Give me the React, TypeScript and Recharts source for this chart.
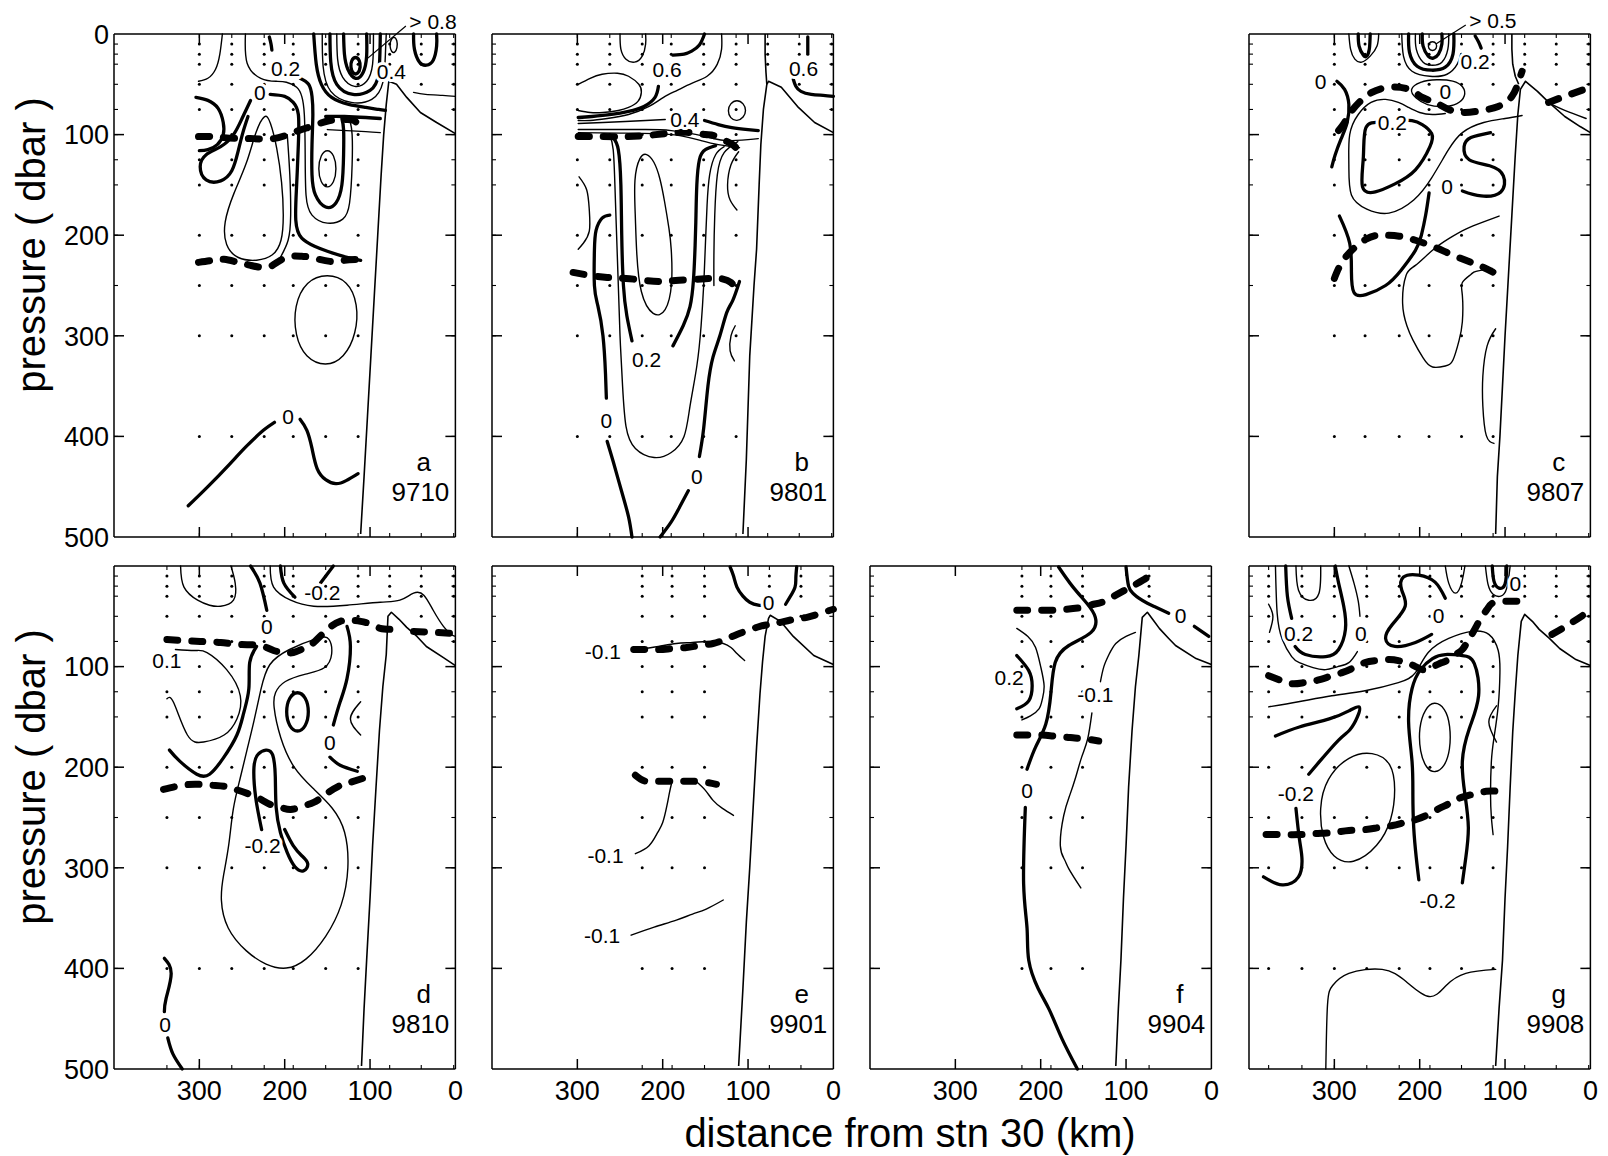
import React from 'react';
import { ScatterChart, Scatter, XAxis, YAxis, ReferenceLine, ReferenceDot } from 'recharts';

type Pt = [number, number];
type Lbl = { x: number; y: number; t: string; s?: number; h?: boolean };

const FONT = "'Liberation Sans', Arial, Helvetica, sans-serif";

// panel frame geometry (page pixels)
const PANEL_W = 341.4;
const PANEL_H = 503;
const COL_X = [114.3, 492.3, 870, 1249.3];
const ROW_Y = [33.6, 565.5];
const M = { top: 34, right: 16, bottom: 44, left: 78 };
// axes get a near-zero size so they never push the plot area around
const HAIR = 0.001;

// sampling depths (dbar) and axis ticks
const levels = [10, 20, 30, 50, 75, 100, 125, 150, 200, 250, 300, 400];
const majorX = [100, 200, 300];
const majorY = [100, 200, 300, 400];
const xTickLabels = [0, 100, 200, 300];

// ---------- a 9710 ----------
const aDeep = [300, 262, 224, 190, 152, 114];
const aShallow: Pt[] = [[77, 30], [40, 50], [2, 75]];
const aShelf: Pt[][] = [[[111, 497], [107, 440], [103, 380], [99, 320], [95, 260], [91, 200], [87, 140], [84, 100], [81, 70], [78, 47], [69, 50], [57, 63], [41, 78], [22, 88], [0, 99]]];
const aDash: Pt[][] = [
  [[301, 102], [285, 102], [271, 103], [250, 104], [236, 104], [213, 104], [190, 98], [166, 91], [147, 86], [130, 85], [119, 86], [110, 94]],
  [[301, 227], [285, 225], [271, 224], [255, 227], [240, 230], [221, 232], [207, 226], [193, 221], [180, 221], [170, 222], [147, 226], [130, 225], [111, 224]],
];
const aThin: Pt[][] = [
  [[301, 47], [290, 44], [281, 35], [276, 20], [273, 0]],
  [[246, 0], [244, 29], [228, 44], [210, 47], [198, 48], [186, 53], [180, 62], [177, 80], [176, 120], [175, 160], [168, 180], [150, 188], [132, 184], [124, 168], [121, 130], [121, 100], [123, 88]],
  [[139, 0], [138, 25], [132, 43], [118, 52], [104, 47], [97, 30], [96, 0]],
  [[156, 0], [155, 32], [146, 57], [122, 68], [98, 65], [85, 48], [82, 20], [81, 0]],
  [[150, 95], [128, 96], [105, 97], [88, 98]],
  [[49, 58], [35, 60], [15, 61], [0, 62]],
  [[197, 100], [194, 140], [193, 180], [196, 205], [205, 222]],
];
const aThick: Pt[][] = [
  [[304, 63], [290, 66], [278, 74], [272, 88], [272, 100], [279, 110], [290, 115], [300, 116]],
  [[240, 66], [250, 84], [260, 100], [275, 112], [292, 120], [299, 132], [292, 145], [275, 146], [262, 136], [255, 118], [249, 98], [243, 82]],
  [[217, 60], [200, 62], [190, 68], [184, 80], [184, 110], [186, 150], [187, 185], [180, 203], [165, 211], [150, 216], [127, 222], [111, 225]],
  [[182, 44], [172, 50], [168, 62], [167, 80], [168, 110], [168, 140], [164, 160], [152, 172], [140, 168], [133, 150], [131, 120], [131, 95], [133, 84]],
  [[131, 0], [130, 20], [126, 35], [117, 44], [108, 38], [104, 22], [104, 0]],
  [[147, 0], [146, 28], [139, 50], [120, 60], [100, 56], [90, 40], [88, 0]],
  [[166, 0], [163, 30], [157, 50], [145, 63], [125, 70], [105, 73], [90, 75], [82, 76]],
  [[218, 3], [216, 10], [215, 16]],
  [[49, 0], [48, 15], [42, 28], [34, 31], [26, 26], [22, 12], [22, 0]],
  [[313, 469], [290, 450], [265, 428], [245, 410], [225, 394], [212, 386]],
  [[182, 383], [174, 394], [168, 412], [162, 432], [152, 443], [140, 447], [128, 444], [114, 437]],
  [[152, 82], [130, 82], [105, 83], [88, 84]],
];
const aLoops: Pt[][] = [
  [[223, 78], [234, 96], [244, 129], [260, 158], [272, 188], [270, 211], [256, 224], [232, 226], [213, 221], [203, 207], [201, 181], [203, 148], [209, 112], [217, 86]],
  [[150, 114], [158, 120], [161, 134], [158, 148], [150, 154], [142, 148], [139, 134], [142, 120]],
  [[150, 238], [175, 245], [189, 270], [188, 300], [176, 322], [152, 331], [130, 322], [116, 298], [114, 268], [126, 245]],
  [[72, 2], [76, 6], [77, 12], [75, 18], [71, 19], [68, 14], [68, 6]],
];
const aLoopsThick: Pt[][] = [[[117, 22], [122, 26], [123, 33], [120, 40], [114, 40], [111, 33], [112, 26]]];
const aLabels: Lbl[] = [
  { x: 199, y: 34, t: '0.2' }, { x: 229, y: 58, t: '0' }, { x: 75, y: 37, t: '0.4' }, { x: 196, y: 380, t: '0' },
];
const aLeader: Pt[] = [[104, 25], [58, -8]];

// ---------- b 9801 ----------
const bDeep = [300, 262, 224, 190, 152, 114];
const bShallow: Pt[] = [[77, 30], [40, 50], [2, 75]];
const bShelf: Pt[][] = [
  [[106, 497], [102, 423], [98, 320], [93, 250], [90, 214], [87, 150], [85, 110], [82, 75], [78, 50], [76, 47], [61, 53], [41, 73], [22, 88], [0, 98]],
  [[80, 0], [80, 20], [79, 38], [78, 50]],
];
const bDash: Pt[][] = [
  [[299, 102], [270, 102], [244, 102], [220, 101], [197, 99], [182, 98], [166, 98], [150, 100], [140, 101], [127, 106], [118, 110], [111, 116]],
  [[305, 237], [285, 240], [265, 242], [243, 243], [220, 245], [203, 246], [185, 245], [164, 244], [145, 243], [133, 243], [120, 247], [113, 257]],
];
const bThin: Pt[][] = [
  [[250, 0], [249, 15], [243, 25], [233, 28], [224, 22], [220, 10], [220, 0]],
  [[299, 50], [285, 44], [271, 40], [253, 39], [240, 42], [228, 50], [225, 58], [229, 67], [240, 73], [252, 76], [270, 78], [285, 78], [299, 76]],
  [[131, 0], [131, 15], [136, 30], [148, 42], [166, 49], [183, 56], [199, 63], [216, 72], [240, 80], [265, 84], [285, 86], [299, 86]],
  [[197, 85], [220, 86], [244, 87], [270, 88], [299, 89]],
  [[299, 95], [260, 95], [220, 95], [190, 96], [160, 100], [140, 104], [125, 106], [100, 105], [88, 104]],
  [[299, 98], [250, 98.5], [210, 99], [180, 101], [155, 106], [135, 110], [118, 112], [110, 113]],
  [[262, 100], [258, 115], [256, 150], [254, 200], [252, 250], [250, 300], [247, 350], [243, 390], [232, 412], [210, 421], [190, 416], [175, 400], [168, 370], [160, 330], [155, 290], [152, 250], [150, 210], [148, 170], [145, 140], [138, 120], [128, 112]],
  [[298, 142], [289, 155], [286, 175], [286, 196], [293, 208], [299, 214]],
  [[112, 107], [128, 118], [136, 140], [139, 180], [140, 220], [140, 250]],
  [[111, 117], [120, 130], [124, 150], [121, 165], [113, 175]],
  [[115, 290], [120, 300], [121, 315], [116, 325]],
];
const bThick: Pt[][] = [
  [[188, 21], [175, 20], [166, 17], [157, 11], [151, 0]],
  [[205, 52], [209, 63], [222, 72], [240, 77], [260, 80], [283, 82], [299, 83]],
  [[151, 86], [135, 90], [119, 93], [100, 95], [88, 96]],
  [[258, 103], [252, 115], [249, 150], [248, 200], [246, 250], [242, 280], [236, 305]],
  [[188, 310], [176, 290], [168, 271], [164, 245], [162, 210], [161, 180], [160, 150], [157, 125], [150, 115], [138, 111]],
  [[30, 3], [30, 12], [30, 20]],
  [[47, 45], [44, 52], [38, 57], [26, 60], [12, 61], [0, 62]],
  [[262, 180], [271, 183], [278, 195], [280, 215], [280, 250], [276, 270], [270, 300], [267, 338], [266, 362]],
  [[265, 405], [258, 425], [248, 455], [240, 480], [236, 500]],
  [[110, 246], [118, 265], [125, 277], [133, 300], [141, 321], [147, 350], [152, 392], [157, 420]],
  [[170, 454], [180, 470], [190, 485], [203, 500]],
];
const bLoops: Pt[][] = [
  [[219, 118], [227, 121], [234, 143], [232, 180], [231, 214], [227, 260], [211, 282], [196, 278], [188, 250], [190, 210], [192, 196], [198, 165], [203, 143], [210, 126]],
  [[113, 65], [121, 69], [124, 76], [121, 84], [113, 87], [105, 83], [102, 76], [105, 69]],
];
const bLabels: Lbl[] = [
  { x: 195, y: 35, t: '0.6' }, { x: 35, y: 34, t: '0.6' }, { x: 174, y: 85, t: '0.4' },
  { x: 219, y: 324, t: '0.2' }, { x: 266, y: 384, t: '0' }, { x: 160, y: 440, t: '0' },
];

// ---------- c 9807 ----------
const cDeep = [300, 264, 224, 189, 151, 114];
const cShallow: Pt[] = [[77, 30], [40, 50], [2, 75]];
const cShelf: Pt[][] = [
  [[111, 497], [109, 440], [106, 400], [103, 350], [100, 300], [96, 240], [92, 180], [88, 120], [85, 80], [82, 55], [76, 47], [62, 57], [50, 67], [30, 82], [12, 92], [0, 98]],
  [[92, 0], [92, 15], [91, 30], [88, 42], [84, 50]],
];
const cDash: Pt[][] = [
  [[295, 96], [288, 88], [283, 80], [271, 68], [256, 58], [236, 53], [213, 55], [197, 63], [182, 68], [166, 75], [147, 78], [127, 76], [108, 72], [92, 62], [84, 47], [80, 37]],
  [[49, 68], [30, 62], [0, 53]],
  [[300, 243], [287, 222], [263, 204], [244, 200], [224, 201], [205, 205], [185, 211], [166, 218], [146, 225], [128, 231], [111, 238]],
];
const cThin: Pt[][] = [
  [[283, 0], [281, 15], [276, 25], [268, 28], [258, 22], [250, 12], [248, 0]],
  [[205, 0], [204, 15], [196, 28], [185, 31], [174, 28], [167, 15], [166, 0]],
  [[221, 0], [219, 22], [209, 37], [188, 42], [168, 40], [156, 30], [152, 20]],
  [[80, 81], [100, 84], [125, 88], [150, 98], [167, 116], [186, 143], [207, 165], [236, 178], [262, 174], [280, 160], [283, 130], [282, 100], [272, 80], [257, 68], [240, 65], [225, 68], [213, 73], [200, 78], [185, 80], [170, 79]],
  [[107, 181], [126, 187], [146, 194], [165, 203], [185, 215], [205, 230], [216, 240], [220, 268], [215, 290], [208, 304], [196, 322], [185, 331], [170, 330], [161, 324], [154, 305], [150, 286], [150, 260], [150, 247], [140, 239], [134, 236], [115, 233]],
  [[111, 293], [121, 310], [126, 340], [126, 370], [122, 399], [113, 407]],
  [[50, 68], [30, 76], [5, 84]],
];
const cThick: Pt[][] = [
  [[272, 0], [271, 12], [266, 21], [262, 22], [259, 15], [258, 0]],
  [[197, 0], [196, 12], [190, 22], [184, 24], [178, 20], [174, 10], [174, 0]],
  [[213, 0], [212, 18], [203, 32], [186, 36], [170, 33], [161, 20], [160, 0]],
  [[135, 2], [131, 8], [128, 14]],
  [[297, 47], [288, 55], [283, 70], [285, 88], [292, 104], [299, 120], [303, 132]],
  [[247, 88], [263, 93], [266, 122], [267, 152], [252, 157], [229, 149], [205, 135], [188, 112], [186, 99], [197, 90], [209, 86], [218, 86]],
  [[117, 98], [140, 103], [148, 112], [142, 125], [118, 131], [102, 141], [105, 157], [128, 161], [150, 156]],
  [[189, 158], [193, 180], [198, 200], [205, 215], [222, 235], [240, 250], [263, 259], [277, 257], [280, 236], [282, 208], [294, 181]],
];
const cLoops: Pt[][] = [
  [[213, 55], [200, 47], [180, 45], [160, 46], [148, 52], [146, 62], [155, 70], [172, 73], [192, 71], [205, 64]],
  [[185, 7], [190, 9], [190, 15], [185, 17], [180, 15], [180, 9]],
];
const cLabels: Lbl[] = [
  { x: 135, y: 27, t: '0.2' }, { x: 170, y: 57, t: '0' }, { x: 316, y: 47, t: '0' },
  { x: 232, y: 88, t: '0.2' }, { x: 168, y: 152, t: '0' },
];
const cLeader: Pt[] = [[181, 10], [146, -9]];

// ---------- d 9810 ----------
const dDeep = [338, 300, 262, 224, 190, 152, 114];
const dShallow: Pt[] = [[77, 30], [40, 50], [2, 75]];
const dShelf: Pt[][] = [[[110, 497], [107, 440], [104, 392], [100, 330], [97, 278], [93, 220], [89, 164], [85, 120], [81, 88], [79, 50], [75, 46], [66, 53], [57, 61], [45, 70], [34, 80], [14, 91], [0, 99]]];
const dDash: Pt[][] = [
  [[338, 73], [320, 74], [299, 75], [275, 76], [252, 78], [229, 79], [213, 84], [200, 86], [190, 86], [178, 82], [166, 76], [150, 63], [135, 55], [122, 54], [111, 55], [98, 58], [88, 62], [76, 63]],
  [[49, 65], [25, 66], [0, 67]],
  [[342, 222], [320, 218], [302, 217], [285, 218], [271, 219], [258, 222], [244, 226], [230, 231], [217, 237], [205, 240], [193, 242], [180, 239], [166, 235], [155, 229], [147, 224], [137, 219], [127, 216], [108, 211]],
];
const dThin: Pt[][] = [
  [[322, 0], [318, 21], [302, 34], [288, 39], [275, 40], [260, 34], [258, 17], [263, 0]],
  [[217, 0], [213, 21], [193, 34], [166, 40], [127, 39], [88, 36], [65, 34], [49, 27], [37, 29], [26, 44], [14, 60], [5, 68], [0, 70]],
  [[328, 83], [305, 84], [291, 86], [268, 103], [252, 129], [256, 152], [271, 168], [295, 175], [314, 168], [330, 136], [338, 132]],
  [[111, 135], [123, 152], [111, 168]],
];
const dThick: Pt[][] = [
  [[240, 0], [229, 17], [221, 44]],
  [[205, 0], [201, 17], [188, 31]],
  [[158, 17], [143, 0]],
  [[233, 80], [241, 96], [242, 122], [248, 146], [256, 168], [272, 191], [288, 207], [303, 207], [323, 194], [335, 183]],
  [[127, 60], [123, 80], [127, 112], [135, 135], [143, 158]],
  [[147, 190], [135, 198], [115, 204]],
  [[227, 262], [234, 230], [236, 200], [231, 187], [222, 183], [214, 188], [211, 210], [210, 240], [205, 265], [197, 285], [188, 299], [178, 303], [173, 296], [180, 288], [190, 278], [200, 262]],
  [[341, 390], [333, 405], [339, 430], [341, 443]],
  [[337, 469], [331, 485], [320, 500]],
];
const dLoops: Pt[][] = [
  [[158, 70], [197, 83], [220, 96], [228, 122], [236, 155], [244, 182], [252, 211], [261, 240], [265, 278], [272, 308], [276, 331], [269, 361], [245, 384], [222, 397], [198, 402], [175, 393], [151, 369], [132, 338], [124, 300], [128, 262], [143, 240], [167, 221], [190, 202], [206, 171], [214, 137], [212, 126], [202, 114], [175, 107], [151, 103], [143, 88], [147, 70]],
];
const dLoopsThick: Pt[][] = [[[185, 124], [195, 130], [199, 145], [195, 160], [185, 166], [175, 160], [171, 145], [175, 130]]];
const dLabels: Lbl[] = [
  { x: 156, y: 26, t: '-0.2' }, { x: 221, y: 60, t: '0' }, { x: 338, y: 94, t: '0.1' },
  { x: 147, y: 175, t: '0' }, { x: 226, y: 278, t: '-0.2' }, { x: 340, y: 456, t: '0' },
];

// ---------- e 9901 ----------
const eDeep = [224, 189, 151];
const eShallow: Pt[] = [[75, 30], [38, 50]];
const eShelf: Pt[][] = [[[111, 497], [106, 420], [102, 354], [98, 300], [94, 240], [90, 180], [86, 127], [83, 95], [80, 70], [76, 52], [74, 49], [62, 55], [47, 70], [23, 89], [0, 98]]];
const eDash: Pt[][] = [
  [[234, 83], [219, 83], [204, 83], [188, 82], [172, 81], [157, 79], [141, 77], [127, 73], [113, 68], [100, 64], [86, 60], [74, 58], [62, 56], [46, 53], [31, 51], [15, 47], [0, 43]],
  [[232, 208], [220, 214], [204, 214], [188, 214], [175, 214], [165, 214], [150, 215], [137, 217]],
];
const eThin: Pt[][] = [
  [[228, 83], [205, 80], [184, 77], [165, 76], [149, 75], [138, 76], [129, 77], [120, 81], [113, 87], [104, 94]],
  [[232, 286], [216, 278], [206, 265], [200, 255], [195, 238], [192, 225], [189, 214]],
  [[161, 214], [150, 223], [141, 233], [130, 241], [117, 248]],
  [[237, 367], [210, 359], [184, 352], [165, 346], [149, 341], [129, 332]],
];
const eThick: Pt[][] = [
  [[121, 1], [117, 10], [113, 21], [106, 30], [98, 36], [88, 39], [84, 39]],
  [[43, 1], [44, 12], [45, 21], [51, 31], [56, 38]],
];
const eLabels: Lbl[] = [
  { x: 76, y: 36, t: '0' }, { x: 270, y: 85, t: '-0.1' }, { x: 267, y: 288, t: '-0.1' }, { x: 271, y: 367, t: '-0.1' },
];

// ---------- f 9904 ----------
const fDeep = [222, 188, 151];
const fShallow: Pt[] = [[73, 30]];
const fShelf: Pt[][] = [[[112, 497], [109, 440], [106, 392], [103, 330], [100, 278], [97, 220], [93, 164], [89, 120], [85, 89], [81, 51], [75, 46], [68, 54], [61, 62], [50, 72], [42, 79], [18, 92], [0, 98]]];
const fDash: Pt[][] = [
  [[228, 44], [210, 44], [190, 44], [170, 43], [151, 41], [138, 38], [128, 36], [112, 29], [97, 22], [80, 14], [65, 5]],
  [[228, 168], [213, 168], [198, 168], [185, 169], [171, 170], [160, 171], [147, 172], [132, 174]],
];
const fThin: Pt[][] = [
  [[228, 62], [215, 70], [206, 81], [200, 100], [196, 119], [198, 132], [202, 142], [212, 149], [222, 153]],
  [[89, 66], [100, 70], [112, 77], [120, 88], [126, 100], [130, 115]],
  [[140, 146], [145, 172], [152, 190], [159, 210], [166, 228], [173, 248], [177, 278], [172, 292], [167, 301], [153, 320]],
];
const fThick: Pt[][] = [
  [[100, 1], [97, 20], [92, 27], [85, 32], [75, 37], [65, 41], [50, 47]],
  [[20, 60], [3, 70]],
  [[179, 1], [163, 20], [146, 37], [136, 51], [141, 66], [167, 79], [183, 96], [188, 126], [194, 157], [206, 180], [216, 202]],
  [[218, 240], [220, 316], [216, 360], [214, 392], [203, 420], [190, 441], [175, 470], [157, 500]],
  [[228, 89], [214, 104], [210, 119], [214, 134], [228, 142]],
];
const fLabels: Lbl[] = [
  { x: 36, y: 49, t: '0' }, { x: 237, y: 111, t: '0.2' }, { x: 136, y: 128, t: '-0.1' }, { x: 216, y: 223, t: '0' },
];

// ---------- g 9908 ----------
const gDeep = [377, 338, 300, 262, 224, 188, 151, 114];
const gShallow: Pt[] = [[77, 30], [40, 50], [2, 75]];
const gShelf: Pt[][] = [[[111, 497], [107, 440], [103, 392], [100, 330], [97, 279], [94, 220], [91, 165], [88, 125], [85, 89], [81, 55], [77, 48], [68, 55], [60, 63], [48, 72], [36, 82], [17, 93], [0, 99]]];
const gDash: Pt[][] = [
  [[377, 109], [362, 114], [349, 117], [336, 116], [322, 114], [306, 110], [291, 106], [277, 101], [264, 96], [250, 94], [236, 93], [225, 94], [217, 96], [207, 99], [197, 103], [188, 101], [182, 99], [174, 96], [166, 93], [158, 88], [150, 83], [144, 75], [139, 68], [133, 59], [127, 50], [121, 43], [115, 37], [104, 35], [92, 35], [82, 35], [72, 35]],
  [[45, 68], [25, 58], [0, 44]],
  [[380, 267], [360, 267], [341, 267], [322, 266], [302, 265], [283, 263], [263, 262], [248, 260], [232, 258], [218, 255], [204, 252], [190, 247], [177, 241], [165, 236], [154, 231], [138, 227], [122, 224], [107, 224]],
];
const gThin: Pt[][] = [
  [[345, 0], [342, 24], [330, 34], [318, 27], [316, 0]],
  [[369, 0], [367, 47], [361, 73], [350, 90], [341, 96], [325, 101], [310, 103], [296, 100], [283, 96], [273, 85]],
  [[270, 50], [272, 35], [277, 17], [283, 0]],
  [[377, 38], [372, 50], [376, 66]],
  [[170, 0], [166, 17], [158, 27], [151, 17], [147, 0]],
  [[123, 0], [120, 18], [114, 28], [105, 30], [98, 22], [94, 0]],
  [[377, 140], [342, 135], [303, 129], [264, 124], [225, 116], [205, 106], [190, 86], [166, 72], [139, 65], [119, 68], [108, 84], [106, 106], [108, 139], [113, 171], [116, 194], [117, 227], [116, 250], [114, 267]],
  [[310, 500], [308, 436], [302, 417], [283, 405], [244, 401], [216, 413], [189, 428], [169, 417], [146, 405], [111, 401]],
  [[110, 139], [119, 155], [110, 175]],
];
const gThick: Pt[][] = [
  [[357, 0], [355, 30], [350, 52]],
  [[346, 80], [334, 88], [310, 90], [295, 83], [287, 63], [289, 40], [295, 17], [299, 0]],
  [[170, 32], [182, 16], [201, 9], [219, 11], [221, 24], [217, 40], [232, 58], [240, 72], [229, 80], [205, 76], [186, 68]],
  [[201, 312], [204, 290], [207, 260], [208, 227], [209, 194], [213, 155], [209, 122], [199, 103], [185, 92], [170, 88], [150, 89], [136, 97], [131, 129], [142, 162], [150, 194], [147, 227], [143, 260], [146, 290], [150, 315]],
  [[369, 169], [341, 160], [306, 152], [283, 144], [271, 140], [273, 150], [282, 163], [295, 173], [318, 195], [330, 207]],
  [[383, 309], [361, 317], [342, 309], [338, 290], [341, 271], [345, 241]],
  [[115, 0], [113, 15], [107, 22], [100, 18], [98, 0]],
];
const gLoops: Pt[][] = [
  [[183, 134], [194, 142], [201, 160], [200, 185], [192, 202], [182, 206], [171, 200], [164, 183], [164, 158], [170, 141]],
  [[318, 241], [310, 211], [283, 188], [255, 184], [232, 195], [228, 222], [232, 252], [248, 279], [279, 298], [302, 290], [314, 271]],
];
const gLabels: Lbl[] = [
  { x: 342, y: 67, t: '0.2' }, { x: 269, y: 67, t: '0' }, { x: 178, y: 49, t: '0' }, { x: 88, y: 17, t: '0' },
  { x: 345, y: 226, t: '-0.2' }, { x: 179, y: 332, t: '-0.2' },
];

const panelLetters = ['a', 'b', 'c', 'd', 'e', 'f', 'g'];
const cruises = ['9710', '9801', '9807', '9810', '9901', '9904', '9908'];

type PanelDef = {
  col: number; row: number;
  deep: number[]; shallow: Pt[];
  shelf: Pt[][]; dash: Pt[][]; thin: Pt[][]; thick: Pt[][];
  loops?: Pt[][]; loopsThick?: Pt[][];
  labels: Lbl[];
  yTicks?: number[]; xLabels?: boolean;
  leader?: Pt[]; leaderText?: string;
};

const panels: PanelDef[] = [
  { col: 0, row: 0, deep: aDeep, shallow: aShallow, shelf: aShelf, dash: aDash, thin: aThin, thick: aThick, loops: aLoops, loopsThick: aLoopsThick, labels: aLabels, yTicks: [0, 100, 200, 300, 400, 500], leader: aLeader, leaderText: '> 0.8' },
  { col: 1, row: 0, deep: bDeep, shallow: bShallow, shelf: bShelf, dash: bDash, thin: bThin, thick: bThick, loops: bLoops, labels: bLabels },
  { col: 3, row: 0, deep: cDeep, shallow: cShallow, shelf: cShelf, dash: cDash, thin: cThin, thick: cThick, loops: cLoops, labels: cLabels, leader: cLeader, leaderText: '> 0.5' },
  { col: 0, row: 1, deep: dDeep, shallow: dShallow, shelf: dShelf, dash: dDash, thin: dThin, thick: dThick, loops: dLoops, loopsThick: dLoopsThick, labels: dLabels, yTicks: [100, 200, 300, 400, 500], xLabels: true },
  { col: 1, row: 1, deep: eDeep, shallow: eShallow, shelf: eShelf, dash: eDash, thin: eThin, thick: eThick, labels: eLabels, xLabels: true },
  { col: 2, row: 1, deep: fDeep, shallow: fShallow, shelf: fShelf, dash: fDash, thin: fThin, thick: fThick, labels: fLabels, xLabels: true },
  { col: 3, row: 1, deep: gDeep, shallow: gShallow, shelf: gShelf, dash: gDash, thin: gThin, thick: gThick, loops: gLoops, labels: gLabels, xLabels: true },
];

const toXY = (pts: Pt[]) => pts.map(([x, y]) => ({ x, y }));

const NoDot = () => <g />;
// tick renderer that draws nothing, so only the tick line shows
const NoTick = () => <g />;
const StationDot = (p: any) => <circle cx={p.cx} cy={p.cy} r={1.5} fill="#000" />;
const TextMark = (p: any) => {
  const { cx, cy, payload } = p;
  const halo = payload.h !== false;
  return (
    <text x={cx} y={cy} dy="0.36em" textAnchor="middle" fontFamily={FONT} fontSize={payload.s ?? 21}
      fill="#000" stroke={halo ? '#fff' : 'none'} strokeWidth={halo ? 6 : 0} strokeLinejoin="round"
      paintOrder="stroke">{payload.t}</text>
  );
};
const XTick = (p: any) => (
  <text x={p.x} y={p.y} dy="0.71em" textAnchor="middle" fontFamily={FONT} fontSize={27} fill="#000">{p.payload.value}</text>
);
const YTick = (p: any) => (
  <text x={p.x} y={p.y} dy="0.36em" textAnchor="end" fontFamily={FONT} fontSize={27} fill="#000">{p.payload.value}</text>
);

const AX = { stroke: '#000', strokeWidth: 1.5 };
const MINOR = { stroke: '#000', strokeWidth: 1.1 };
const THIN = { stroke: '#000', strokeWidth: 1.4, strokeLinecap: 'round' as const };
const THICK = { stroke: '#000', strokeWidth: 3.3, strokeLinecap: 'round' as const };
const DASH = { stroke: '#000', strokeWidth: 7, strokeDasharray: '11 14', strokeLinecap: 'round' as const };
const SHELF = { stroke: '#000', strokeWidth: 1.6, strokeLinejoin: 'round' as const };

function Panel({ def, idx }: { def: PanelDef; idx: number }) {
  const W = M.left + PANEL_W + M.right;
  const H = M.top + PANEL_H + M.bottom;
  const stationKm = [...def.deep, ...def.shallow.map((s) => s[0])];
  const dots = [
    ...def.deep.flatMap((s) => levels.map((l) => ({ x: s, y: l }))),
    ...def.shallow.flatMap(([s, max]) => levels.filter((l) => l <= max).map((l) => ({ x: s, y: l }))),
  ];
  const marks = [
    ...def.labels,
    { x: 37, y: 425, t: panelLetters[idx], s: 26, h: false },
    { x: 41, y: 455, t: cruises[idx], s: 26, h: false },
  ];
  const line = (set: Pt[][] | undefined, style: object, kind: string, curve: any) =>
    (set ?? []).map((pts, i) => (
      <Scatter key={kind + i} data={toXY(pts)} line={style} lineJointType={curve} shape={NoDot} isAnimationActive={false} />
    ));
  const xCommon = { type: 'number' as const, dataKey: 'x', domain: [0, 400], reversed: true, interval: 0 as const, height: HAIR };
  const yCommon = { type: 'number' as const, dataKey: 'y', domain: [0, 500], reversed: true, interval: 0 as const, width: HAIR };
  // helper axes carry no series, so their fixed domain has to be taken as is
  const xAux = { ...xCommon, allowDataOverflow: true };
  const yAux = { ...yCommon, allowDataOverflow: true };
  return (
    <div style={{ position: 'absolute', left: COL_X[def.col] - M.left, top: ROW_Y[def.row] - M.top }}>
      <ScatterChart width={W} height={H} margin={M}>
        <XAxis {...xCommon} mirror ticks={majorX} tick={NoTick} tickSize={10} axisLine={AX} tickLine={AX} />
        <XAxis {...xAux} xAxisId="top" orientation="top" mirror ticks={majorX} tick={NoTick} tickSize={10} axisLine={AX} tickLine={AX} />
        <XAxis {...xAux} xAxisId="minB" mirror ticks={stationKm} tick={NoTick} tickSize={4} axisLine={false} tickLine={MINOR} />
        <XAxis {...xAux} xAxisId="minT" orientation="top" mirror ticks={stationKm} tick={NoTick} tickSize={4} axisLine={false} tickLine={MINOR} />
        <XAxis {...xAux} xAxisId="lab" ticks={xTickLabels} tick={def.xLabels ? XTick : NoTick} tickSize={0} tickMargin={12} axisLine={false} tickLine={false} />
        <YAxis {...yCommon} mirror ticks={majorY} tick={NoTick} tickSize={10} axisLine={AX} tickLine={AX} />
        <YAxis {...yAux} yAxisId="right" orientation="right" mirror ticks={majorY} tick={NoTick} tickSize={10} axisLine={AX} tickLine={AX} />
        <YAxis {...yAux} yAxisId="minL" mirror ticks={levels} tick={NoTick} tickSize={4} axisLine={false} tickLine={MINOR} />
        <YAxis {...yAux} yAxisId="minR" orientation="right" mirror ticks={levels} tick={NoTick} tickSize={4} axisLine={false} tickLine={MINOR} />
        <YAxis {...yAux} yAxisId="lab" ticks={def.yTicks ?? majorY} tick={def.yTicks ? YTick : NoTick} tickSize={0} tickMargin={5} axisLine={false} tickLine={false} />

        <Scatter data={dots} shape={StationDot} isAnimationActive={false} />
        {line(def.shelf, SHELF, 'shelf', 'linear')}
        {line(def.thin, THIN, 'thin', 'natural')}
        {line(def.loops, THIN, 'loop', 'basisClosed')}
        {line(def.thick, THICK, 'thick', 'natural')}
        {line(def.loopsThick, THICK, 'loopT', 'basisClosed')}
        {line(def.dash, DASH, 'dash', 'natural')}
        <Scatter data={marks} shape={TextMark} isAnimationActive={false} />

        {def.leader && (
          <ReferenceLine segment={[{ x: def.leader[0][0], y: def.leader[0][1] }, { x: def.leader[1][0], y: def.leader[1][1] }]}
            stroke="#000" strokeWidth={1.2} ifOverflow="visible" />
        )}
        {def.leader && (
          <ReferenceDot x={def.leader[1][0] - 4} y={def.leader[1][1] - 4} r={0} ifOverflow="visible"
            shape={(p: any) => (
              <text x={p.cx} y={p.cy} dy="0.36em" textAnchor="start" fontFamily={FONT} fontSize={21} fill="#000">{def.leaderText}</text>
            )} />
        )}
      </ScatterChart>
    </div>
  );
}

export default function App() {
  return (
    <div style={{ position: 'absolute', left: 0, top: 0, width: 1608, height: 1156, background: '#fff', fontFamily: FONT }}>
      {panels.map((p, i) => <Panel key={i} def={p} idx={i} />)}
      {[245, 777].map((cy) => (
        <div key={cy} style={{ position: 'absolute', left: 31, top: cy, transform: 'translate(-50%, -50%) rotate(-90deg)', fontSize: 40, lineHeight: 1, whiteSpace: 'nowrap', color: '#000' }}>
          pressure ( dbar )
        </div>
      ))}
      <div style={{ position: 'absolute', left: 910, top: 1133, transform: 'translate(-50%, -50%)', fontSize: 40, lineHeight: 1.1, whiteSpace: 'nowrap', color: '#000' }}>
        distance from stn 30 (km)
      </div>
    </div>
  );
}
